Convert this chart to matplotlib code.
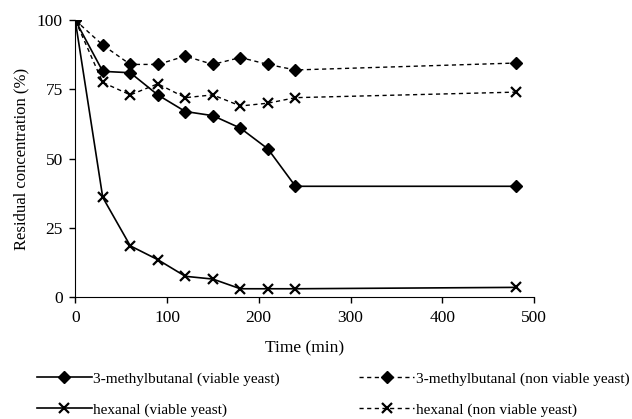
import numpy as np
import matplotlib.pyplot as plt

plt.rcParams['font.family'] = ['Liberation Serif', 'DejaVu Serif']

time = [0, 30, 60, 90, 120, 150, 180, 210, 240, 480]
mb_viable = [100, 81.5, 81, 73, 67, 65.5, 61, 53.5, 40, 40]
mb_nonviable = [100, 91, 84, 84, 87, 84, 86.5, 84, 82, 84.5]
hex_viable = [100, 36, 18.5, 13.5, 7.5, 6.5, 3, 3, 3, 3.5]
hex_nonviable = [100, 77.5, 73, 77, 72, 73, 69, 70, 72, 74]

fig = plt.figure(figsize=(6.32, 4.19), dpi=100)
ax = fig.add_axes([0.119, 0.291, 0.726, 0.661])

dash = (0, (3, 2.5))
ax.plot(time, mb_viable, '-', color='black', lw=1.2, marker='D', ms=6,
        label='3-methylbutanal (viable yeast)')
ax.plot(time, hex_viable, '-', color='black', lw=1.2, marker='x', ms=7, mew=1.6,
        label='hexanal (viable yeast)')
ax.plot(time, mb_nonviable, linestyle=dash, color='black', lw=1.0, marker='D', ms=6,
        label='3-methylbutanal (non viable yeast)')
ax.plot(time, hex_nonviable, linestyle=dash, color='black', lw=1.0, marker='x', ms=7, mew=1.6,
        label='hexanal (non viable yeast)')

ax.set_xlim(0, 500)
ax.set_ylim(0, 100)
ax.set_xticks([0, 100, 200, 300, 400, 500])
ax.set_yticks([0, 25, 50, 75, 100])
ax.spines['top'].set_visible(False)
ax.spines['right'].set_visible(False)
ax.tick_params(direction='out', length=4, labelsize=12.5, width=1, pad=5)
ax.set_xlabel('Time (min)', fontsize=12.5, labelpad=11)
ax.set_ylabel('Residual concentration (%)', fontsize=12, labelpad=5)

fig.legend(loc='upper left', bbox_to_anchor=(0.058, 0.112), ncol=2, frameon=False,
           fontsize=11, handlelength=3.6, handletextpad=0.1, columnspacing=5.2,
           labelspacing=1.1, borderpad=0, borderaxespad=0)

fig.savefig('out.png', dpi=100)
